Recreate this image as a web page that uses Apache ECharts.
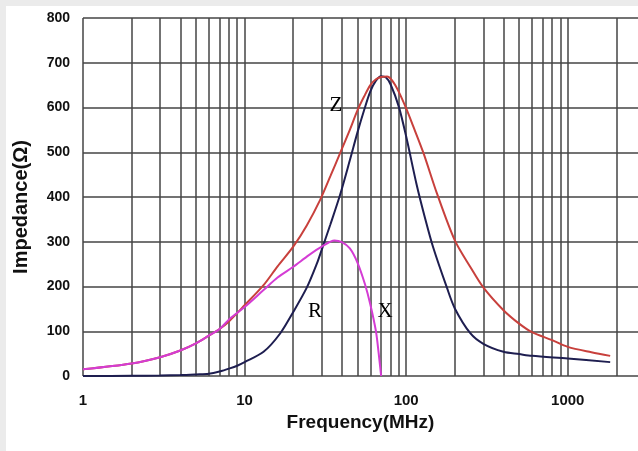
<!DOCTYPE html>
<html>
<head>
<meta charset="utf-8">
<script src="https://cdn.jsdelivr.net/npm/echarts@6/dist/echarts.min.js"></script>
<style>html,body{margin:0;padding:0;background:#fff}#c{width:638px;height:451px}</style>
</head>
<body>
<div id="c"></div>
<script>
// Z (red) impedance curve
var zFreq = [1, 2, 3, 4, 5, 6, 7, 8, 10, 13.1, 16, 20, 24.3, 29.3, 34, 39, 44.8, 50, 55, 60, 65, 70, 76, 82, 90, 100, 110, 128, 155, 200, 250, 300, 400, 500, 600, 800, 1000, 1400, 1830];
var zVal  = [15, 28, 42, 57, 73, 90, 105, 122, 158, 203, 245, 289, 337, 393, 447, 498, 550, 594, 625, 650, 663, 668, 669, 660, 635, 598, 560, 498, 408, 303, 243, 198, 147, 117, 98, 80, 65, 53, 45];
// R (navy) resistance curve
var rFreq = [1, 2, 3, 4, 5, 6, 7, 8.1, 9, 10, 13.1, 16.6, 20, 24.3, 28, 30, 33.9, 39, 44.8, 50, 55, 60, 65, 70, 75, 80, 90, 100, 116, 131, 147, 178, 200, 250, 300, 400, 500, 600, 1000, 1830];
var rVal  = [0, 0.5, 1, 2, 3.5, 5, 10, 17, 23, 31, 54, 95, 143, 198, 251, 282, 338, 405, 482, 545, 595, 636, 660, 670, 667, 652, 602, 535, 428, 352, 287, 199, 151, 95, 72, 54, 49, 45, 39, 31];
// X (magenta) reactance curve
var xFreq = [1, 2, 3, 4, 5, 6, 7, 8.1, 10, 13.1, 16, 20, 25, 30, 36, 40, 44.8, 50, 55.6, 60, 65, 67.5, 70];
var xVal  = [15, 28, 42, 57, 73, 90, 105, 128, 154, 192, 220, 244, 270, 289, 303, 299, 285, 253, 205, 160, 100, 52, 0];
// vertical grid lines (frequency)
var gridFreqs = [1,2,3,4,5,6,7,8,9,10,20,30,40,50,60,70,80,90,100,200,300,400,500,600,700,800,900,1000,2000];
var xTickLabels = ['1', '10', '100', '1000'];
var curveLabels = [
  {text: 'Z', x: 336, y: 105},
  {text: 'R', x: 315, y: 311},
  {text: 'X', x: 385, y: 311}
];

function pairs(f, v) { return f.map(function (a, i) { return [a, v[i]]; }); }

var chart = echarts.init(document.getElementById('c'), null, {renderer: 'canvas'});
var gridColor = '#444444';
var graphics = [
  {type: 'rect', z: -10, shape: {x: 0, y: 0, width: 638, height: 451}, style: {fill: '#ebebeb'}},
  {type: 'rect', z: -9, shape: {x: 6, y: 6, width: 632, height: 445}, style: {fill: '#ffffff'}}
];
curveLabels.forEach(function (l) {
  graphics.push({type: 'text', z: 20, x: l.x, y: l.y, style: {text: l.text, font: '21px "Liberation Serif", serif', fill: '#000', align: 'center', verticalAlign: 'middle'}});
});

chart.setOption({
  animation: false,
  backgroundColor: 'transparent',
  graphic: graphics,
  grid: {left: 83, right: 0, top: 18, bottom: 75},
  xAxis: {
    type: 'log', logBase: 10, min: 1, max: 2720,
    axisLine: {show: false}, axisTick: {show: false}, splitLine: {show: false},
    axisLabel: {
      showMaxLabel: false, margin: 17, fontSize: 15, fontWeight: 'bold', color: '#111',
      fontFamily: 'Liberation Sans, Arial, sans-serif',
      formatter: function (v) { var s = String(Math.round(v)); return xTickLabels.indexOf(s) >= 0 ? s : ''; }
    },
    name: 'Frequency(MHz)', nameLocation: 'middle', nameGap: 31,
    nameTextStyle: {fontSize: 19, fontWeight: 'bold', color: '#111', fontFamily: 'Liberation Sans, Arial, sans-serif'}
  },
  yAxis: {
    type: 'value', min: 0, max: 800, interval: 100,
    axisLine: {show: false}, axisTick: {show: false},
    splitLine: {show: true, lineStyle: {color: gridColor, width: 1.5}},
    axisLabel: {margin: 13, fontSize: 14, fontWeight: 'bold', color: '#111', fontFamily: 'Liberation Sans, Arial, sans-serif'},
    name: 'Impedance(Ω)', nameLocation: 'middle', nameGap: 52, nameRotate: 90,
    nameTextStyle: {fontSize: 20, fontWeight: 'bold', color: '#111', fontFamily: 'Liberation Sans, Arial, sans-serif', padding: [0, 0, 0, -20]}
  },
  series: [
    {
      name: 'R', type: 'line', z: 3, data: pairs(rFreq, rVal), showSymbol: false, smooth: 0.3,
      lineStyle: {color: '#1e1e50', width: 2}, itemStyle: {color: '#1e1e50'},
      markLine: {
        z: 1, silent: true, symbol: 'none', label: {show: false}, animation: false,
        lineStyle: {color: gridColor, width: 1.5, type: 'solid'},
        emphasis: {disabled: true},
        data: gridFreqs.map(function (f) { return {xAxis: f}; })
      }
    },
    {
      name: 'Z', type: 'line', z: 3, data: pairs(zFreq, zVal), showSymbol: false, smooth: 0.3,
      lineStyle: {color: '#c8403c', width: 2}, itemStyle: {color: '#c8403c'}
    },
    {
      name: 'X', type: 'line', z: 4, data: pairs(xFreq, xVal), showSymbol: false, smooth: 0.3,
      lineStyle: {color: '#d43cd4', width: 2}, itemStyle: {color: '#d43cd4'}
    }
  ]
});
</script>
</body>
</html>
